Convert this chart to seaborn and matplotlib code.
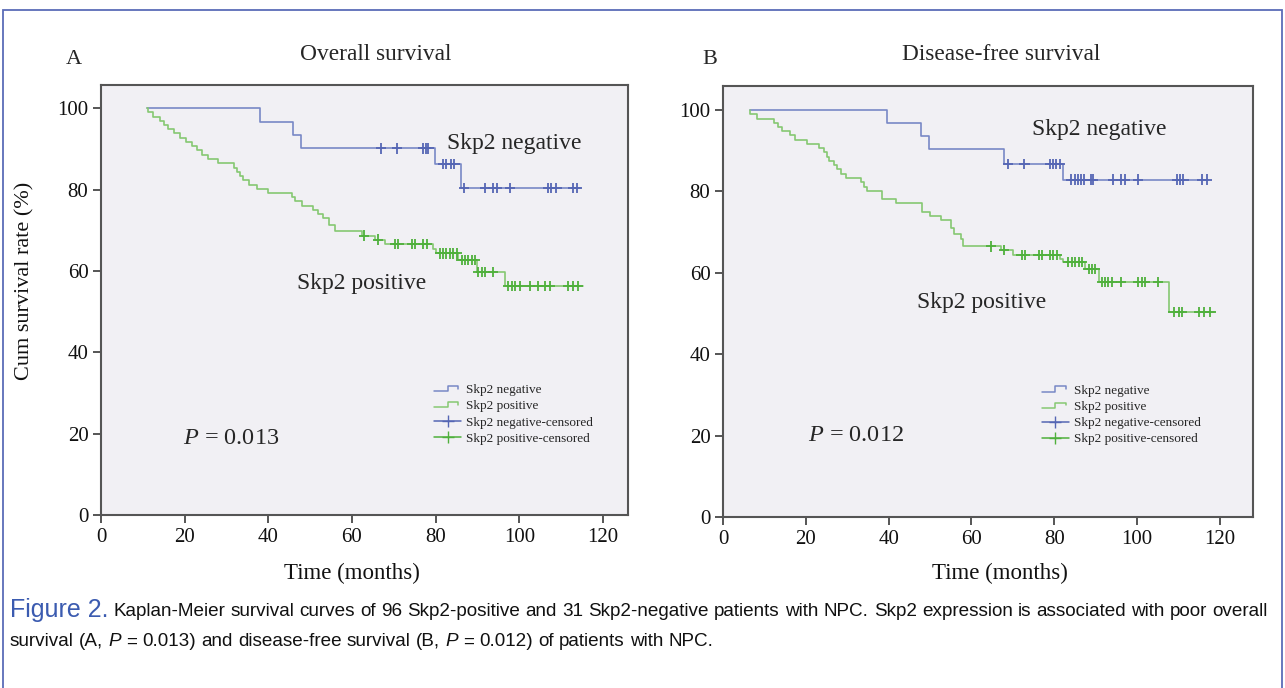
import numpy as np
import pandas as pd
import matplotlib
matplotlib.use("Agg")
import matplotlib.pyplot as plt
import seaborn as sns
from matplotlib.legend_handler import HandlerBase
from matplotlib.lines import Line2D
from matplotlib.patches import Rectangle
from matplotlib import font_manager as fm

# ---------------- data ----------------
group_labels = ["Skp2 negative", "Skp2 positive",
                "Skp2 negative-censored", "Skp2 positive-censored"]

# Panel A: overall survival
os_neg_time = [11.0, 38.0, 45.8, 47.8, 79.9, 86.0, 114.5]
os_neg_surv = [100.0, 96.7, 93.4, 90.1, 86.3, 80.4, 80.4]
os_neg_cens = [66.9, 70.8, 77.0, 77.7, 78.3, 81.8, 82.6, 83.6, 84.5, 86.8,
               91.8, 93.8, 94.7, 97.8, 106.9, 107.7, 108.9, 112.8, 113.7]

os_pos_time = [11.0, 11.3, 12.5, 14.1, 15.1, 16.1, 17.5, 18.9, 20.3, 21.7,
               23.0, 24.1, 25.7, 28.0, 31.8, 32.4, 33.2, 34.0, 35.5, 37.2,
               40.0, 45.6, 46.5, 48.0, 50.8, 52.0, 53.0, 54.5, 55.9, 62.5,
               65.5, 67.9, 79.4, 80.2, 85.4, 89.8, 96.6, 115.2]
os_pos_surv = [100.0, 99.0, 97.9, 96.9, 95.8, 94.8, 93.8, 92.7, 91.7, 90.6,
               89.6, 88.5, 87.5, 86.5, 85.4, 84.4, 83.3, 82.3, 81.2, 80.2,
               79.2, 78.1, 77.1, 76.0, 75.0, 74.0, 72.9, 71.2, 69.8, 68.7,
               67.7, 66.6, 65.5, 64.3, 62.7, 59.8, 56.3, 56.3]
os_pos_cens = [62.9, 66.3, 70.3, 71.1, 74.3, 75.1, 77.0, 77.9, 81.0, 81.8,
               82.6, 83.4, 84.2, 85.0, 86.2, 87.0, 87.8, 88.6, 89.4, 90.2,
               91.0, 91.8, 93.8, 97.4, 98.2, 99.0, 100.2, 102.6, 104.5, 106.1,
               107.3, 111.7, 112.9, 114.1]

# Panel B: disease-free survival
dfs_neg_time = [6.4, 39.6, 47.8, 49.8, 67.9, 82.1, 117.2]
dfs_neg_surv = [100.0, 96.7, 93.6, 90.3, 86.8, 82.9, 82.9]
dfs_neg_cens = [68.8, 72.8, 78.9, 79.7, 80.5, 81.3, 84.1, 84.9, 85.7, 86.5,
                87.3, 88.9, 89.4, 94.2, 96.2, 97.0, 100.3, 109.6, 110.4, 111.2,
                115.6, 116.8]

dfs_pos_time = [6.4, 6.6, 8.2, 12.2, 13.2, 14.2, 16.2, 17.5, 20.3, 23.1,
                24.5, 25.0, 25.5, 26.7, 27.6, 28.5, 29.6, 33.4, 34.0, 34.7,
                38.4, 41.7, 48.0, 50.0, 52.6, 55.1, 55.9, 57.5, 57.9, 67.2,
                70.0, 81.4, 82.2, 87.5, 90.7, 107.6, 118.6]
dfs_pos_surv = [100.0, 99.0, 97.9, 96.9, 95.8, 94.8, 93.8, 92.7, 91.7, 90.6,
                89.6, 88.5, 87.5, 86.5, 85.4, 84.4, 83.3, 82.3, 81.2, 80.2,
                78.1, 77.1, 75.0, 74.0, 72.9, 71.0, 69.6, 68.3, 66.5, 65.6,
                64.4, 63.5, 62.6, 61.0, 57.7, 50.4, 50.4]
dfs_pos_cens = [64.7, 67.8, 72.1, 72.9, 76.2, 77.0, 79.0, 79.8, 80.6, 83.4,
                84.2, 85.0, 85.9, 86.7, 88.3, 89.1, 89.9, 91.5, 92.3, 93.1,
                93.9, 96.2, 100.3, 101.1, 101.9, 105.1, 108.8, 110.1, 110.9,
                114.9, 116.1, 117.7]

x_ticks = [0, 20, 40, 60, 80, 100, 120]
y_ticks = [0, 20, 40, 60, 80, 100]

# ---------------- style ----------------
W, H = 1285, 688
sns.set_theme(style="white")
plt.rcParams["font.family"] = ["Liberation Serif", "DejaVu Serif"]
plt.rcParams["mathtext.fontset"] = "custom"
plt.rcParams["mathtext.rm"] = "Liberation Serif"
plt.rcParams["mathtext.it"] = "Liberation Serif:italic"

BLUE = "#7888c6"
BLUE_M = "#5566b4"
GREEN = "#86c872"
GREEN_M = "#4fb03c"
FACE = "#f1f0f4"
SPINE = "#555555"

fig = plt.figure(figsize=(W / 100, H / 100), dpi=100)
fig.patch.set_facecolor("white")


def px_axes(l, t, r, b):
    return fig.add_axes([l / W, 1 - b / H, (r - l) / W, (b - t) / H])


def step_value(times, surv, c):
    idx = np.searchsorted(times, c, side="right") - 1
    return np.asarray(surv)[np.clip(idx, 0, len(surv) - 1)]


class StepHandler(HandlerBase):
    def create_artists(self, legend, orig_handle, xdescent, ydescent,
                       width, height, fontsize, trans):
        w, h = width, height
        xs = np.array([0, 0.5, 0.5, 0.9, 0.9]) * w - xdescent
        ys = np.array([0.25, 0.25, 0.8, 0.8, 0.5]) * h - ydescent
        ln = Line2D(xs, ys, color=orig_handle.get_color(), lw=1.1,
                    transform=trans)
        return [ln]


def draw_panel(ax, neg_t, neg_s, neg_c, pos_t, pos_s, pos_c, xmax, ymax,
               xlabel_xy):
    ax.set_facecolor(FACE)
    curves = pd.concat([
        pd.DataFrame({"time": neg_t, "surv": neg_s, "group": group_labels[0]}),
        pd.DataFrame({"time": pos_t, "surv": pos_s, "group": group_labels[1]}),
    ])
    sns.lineplot(data=curves, x="time", y="surv", hue="group",
                 palette={group_labels[0]: BLUE, group_labels[1]: GREEN},
                 drawstyle="steps-post", estimator=None, sort=False,
                 lw=1.2, ax=ax, legend=False)
    cens = pd.concat([
        pd.DataFrame({"time": neg_c,
                      "surv": step_value(neg_t, neg_s, np.array(neg_c)),
                      "group": group_labels[2]}),
        pd.DataFrame({"time": pos_c,
                      "surv": step_value(pos_t, pos_s, np.array(pos_c)),
                      "group": group_labels[3]}),
    ])
    sns.scatterplot(data=cens, x="time", y="surv", hue="group",
                    palette={group_labels[2]: BLUE_M, group_labels[3]: GREEN_M},
                    marker="+", s=55, linewidth=1.3, ax=ax, legend=False,
                    zorder=3)
    ax.set_xlim(0, xmax)
    ax.set_ylim(0, ymax)
    ax.set_xticks(x_ticks)
    ax.set_yticks(y_ticks)
    ax.tick_params(axis="both", direction="out", length=6, width=1.4,
                   color=SPINE, labelsize=15, labelcolor="#111111",
                   bottom=True, left=True, pad=3)
    for sp in ax.spines.values():
        sp.set_visible(True)
        sp.set_color(SPINE)
        sp.set_linewidth(1.5)
    ax.set_xlabel("Time (months)", fontsize=16.5, color="#111111")
    ax.xaxis.label.set_va("center")
    ax.xaxis.set_label_coords(*xlabel_xy)
    ax.set_ylabel("")
    handles = [Line2D([], [], color=BLUE), Line2D([], [], color=GREEN),
               Line2D([], [], color=BLUE_M, marker="+", markersize=9, lw=1.1),
               Line2D([], [], color=GREEN_M, marker="+", markersize=9, lw=1.1)]
    return handles


# Panel A
axA = px_axes(101, 85, 628, 515)
hA = draw_panel(axA, os_neg_time, os_neg_surv, os_neg_cens,
                os_pos_time, os_pos_surv, os_pos_cens, 126.0, 105.7,
                (0.476, -0.135))
axA.set_ylabel("Cum survival rate (%)", fontsize=16, color="#111111")
axA.yaxis.label.set_va("center")
axA.yaxis.set_label_coords(-0.144, 0.544)
axA.text(82.7, 91.4, "Skp2 negative", fontsize=17, va="center", ha="left")
axA.text(46.9, 57.0, "Skp2 positive", fontsize=17, va="center", ha="left")
axA.text(19.6, 18.9, "$P$ = 0.013", fontsize=17.5, va="center", ha="left")
axA.legend(hA, group_labels, loc="upper left", bbox_to_anchor=(0.62, 0.32),
           frameon=False, fontsize=9.5, handlelength=2.0, handletextpad=0.4,
           labelspacing=0.3, borderpad=0,
           handler_map={hA[0]: StepHandler(), hA[1]: StepHandler()})

# Panel B
axB = px_axes(723, 86, 1253, 517)
hB = draw_panel(axB, dfs_neg_time, dfs_neg_surv, dfs_neg_cens,
                dfs_pos_time, dfs_pos_surv, dfs_pos_cens, 128.0, 105.9,
                (0.523, -0.130))
axB.text(74.6, 95.1, "Skp2 negative", fontsize=17, va="center", ha="left")
axB.text(46.9, 52.8, "Skp2 positive", fontsize=17, va="center", ha="left")
axB.text(20.5, 20.1, "$P$ = 0.012", fontsize=17.5, va="center", ha="left")
axB.legend(hB, group_labels, loc="upper left", bbox_to_anchor=(0.59, 0.3225),
           frameon=False, fontsize=9.5, handlelength=2.0, handletextpad=0.4,
           labelspacing=0.3, borderpad=0,
           handler_map={hB[0]: StepHandler(), hB[1]: StepHandler()})


def ftext(xp, yp, s, **kw):
    return fig.text(xp / W, 1 - yp / H, s, **kw)


ftext(74, 59, "A", fontsize=16, ha="center", va="center")
ftext(376, 55, "Overall survival", fontsize=16.8, ha="center", va="center")
ftext(710, 59, "B", fontsize=16, ha="center", va="center")
ftext(1001, 55, "Disease-free survival", fontsize=16.8, ha="center",
      va="center")

# outer blue frame
fig.patches.append(Rectangle((3 / W, -0.05), (1282 - 3) / W, 1 - 10 / H + 0.05,
                             transform=fig.transFigure, fill=False,
                             edgecolor="#5b6cb8", lw=1.3))

# ---------------- caption ----------------
def has_font(name):
    try:
        fm.findfont(fm.FontProperties(family=name), fallback_to_default=False)
        return True
    except Exception:
        return False


cap_family = ["Liberation Sans Narrow"] if has_font("Liberation Sans Narrow") \
    else ["Liberation Sans"]
cap_family = cap_family + ["DejaVu Sans"]

fig.canvas.draw()
renderer = fig.canvas.get_renderer()


def width_of(t):
    return t.get_window_extent(renderer).width


line1 = ("Kaplan-Meier survival curves of 96 Skp2-positive and 31 Skp2-negative "
         "patients with NPC. Skp2 expression is associated with poor overall").split()
line2 = [("survival", False), ("(A,", False), ("P", True), ("=", False),
         ("0.013)", False), ("and", False), ("disease-free", False),
         ("survival", False), ("(B,", False), ("P", True), ("=", False),
         ("0.012)", False), ("of", False), ("patients", False),
         ("with", False), ("NPC.", False)]


def line2_width(size):
    ts = [ftext(0, 0, s, fontsize=size, family=cap_family,
                style="italic" if it else "normal") for s, it in line2]
    a = ftext(0, 0, "a a", fontsize=size, family=cap_family)
    b = ftext(0, 0, "aa", fontsize=size, family=cap_family)
    sw = width_of(a) - width_of(b)
    total = sum(width_of(t) for t in ts) + sw * (len(ts) - 1)
    for t in ts + [a, b]:
        t.remove()
    return total, sw


# choose caption size so the last line ends where it does in the reference
base = 12.0
w0, _ = line2_width(base)
cap_size = base * 705.0 / w0
_, space_w = line2_width(cap_size)

# line 1 (justified)
y1, y2 = 611, 642
head = ftext(10, y1 - 1, "Figure 2.", fontsize=18, color="#3b5bb0",
             family=cap_family, va="center", ha="left")
x_start = 10 + width_of(head) + 5
words = [ftext(0, y1, w, fontsize=cap_size, family=cap_family, va="center",
               ha="left", color="#111111") for w in line1]
widths = [width_of(w) for w in words]
gap = (1268 - x_start - sum(widths)) / (len(words) - 1)
gap = max(gap, space_w * 0.6)
x = x_start
for w, wd in zip(words, widths):
    w.set_x(x / W)
    x += wd + gap

# line 2 (natural spacing)
x = 10
for s, ital in line2:
    t = ftext(x, y2, s, fontsize=cap_size, family=cap_family, va="center",
              ha="left", color="#111111", style="italic" if ital else "normal")
    x += width_of(t) + space_w

fig.savefig("out.png", dpi=100, facecolor="white")
